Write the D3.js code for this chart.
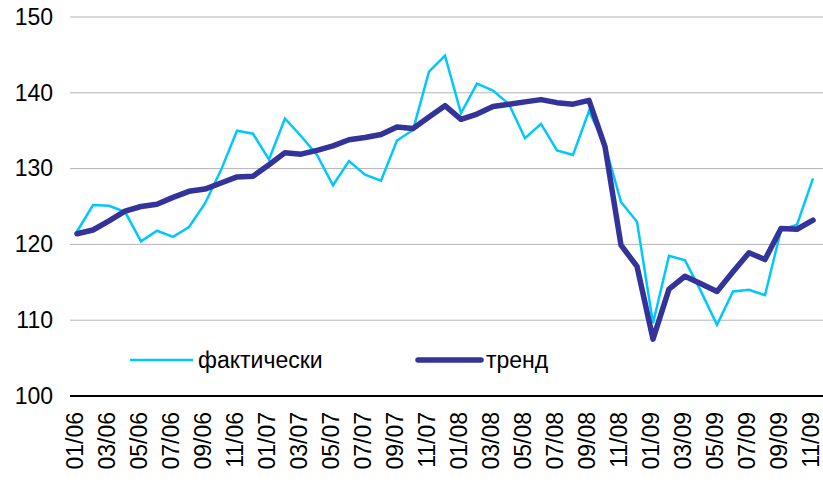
<!DOCTYPE html>
<html>
<head>
<meta charset="utf-8">
<script src="https://cdn.jsdelivr.net/npm/d3@7/dist/d3.min.js"></script>
<style>
  html, body { margin: 0; padding: 0; background: #fff; }
  svg { display: block; font-family: "Liberation Sans", Arial, sans-serif; }
</style>
</head>
<body>
<svg id="chart" width="823" height="480"></svg>
<script>
const months = [
  "01/06","02/06","03/06","04/06","05/06","06/06","07/06","08/06","09/06","10/06","11/06","12/06",
  "01/07","02/07","03/07","04/07","05/07","06/07","07/07","08/07","09/07","10/07","11/07","12/07",
  "01/08","02/08","03/08","04/08","05/08","06/08","07/08","08/08","09/08","10/08","11/08","12/08",
  "01/09","02/09","03/09","04/09","05/09","06/09","07/09","08/09","09/09","10/09","11/09"
];
const actual = [
  121.7,125.2,125.1,124.3,120.4,121.8,121.0,122.3,125.4,129.8,135.0,134.6,
  131.2,136.6,134.3,131.8,127.8,131.0,129.2,128.4,133.7,135.1,142.8,144.9,
  137.3,141.2,140.3,138.5,134.0,135.9,132.4,131.8,137.6,133.1,125.6,123.0,
  109.6,118.5,117.9,113.8,109.4,113.8,114.0,113.3,121.9,122.6,128.7
];
const trend = [
  121.4,121.9,123.1,124.4,125.0,125.3,126.2,127.0,127.3,128.1,128.9,129.0,
  130.5,132.1,131.9,132.4,133.0,133.8,134.1,134.5,135.5,135.3,136.8,138.3,
  136.5,137.2,138.2,138.5,138.8,139.1,138.7,138.5,139.0,132.9,119.9,117.1,
  107.5,114.1,115.8,114.8,113.8,116.4,118.9,118.0,122.1,122.0,123.2
];
const yTicks = [100, 110, 120, 130, 140, 150];
const seriesNames = ["фактически", "тренд"];
const seriesColors = ["#00c8ff", "#333399"];

const svg = d3.select("#chart");
const plotLeft = 70, plotRight = 823, plotTop = 17, plotBottom = 396;

const x = d3.scaleBand().domain(months).range([69, 821]).padding(0);
const xc = d => x(d) + x.bandwidth() / 2;
const y = d3.scaleLinear().domain([100, 150]).range([plotBottom, plotTop]);

// gridlines
svg.append("g").selectAll("line").data(yTicks.filter(t => t > 100)).join("line")
  .attr("x1", plotLeft).attr("x2", plotRight)
  .attr("y1", d => y(d)).attr("y2", d => y(d))
  .attr("stroke", "#b4b4b4").attr("stroke-width", 1);

// y axis labels
const yAxis = d3.axisLeft(y).tickValues(yTicks).tickSize(0).tickPadding(0);
const yg = svg.append("g").attr("transform", "translate(53,0)").call(yAxis);
yg.select(".domain").remove();
yg.selectAll("text").attr("font-size", 23).attr("fill", "#000")
  .attr("font-family", "Liberation Sans, Arial, sans-serif");

// x axis
const xAxis = d3.axisBottom(x).tickValues(months.filter((d, i) => i % 2 === 0)).tickSize(0).tickPadding(0);
const xg = svg.append("g").attr("transform", `translate(0,${plotBottom})`).call(xAxis);
xg.select(".domain").remove();
xg.selectAll("text")
  .attr("font-size", 23).attr("fill", "#000")
  .attr("font-family", "Liberation Sans, Arial, sans-serif")
  .attr("text-anchor", "end")
  .attr("transform", "rotate(-90)")
  .attr("x", -16).attr("y", 0).attr("dy", "0.26em");
svg.append("line").attr("x1", plotLeft).attr("x2", plotRight)
  .attr("y1", plotBottom).attr("y2", plotBottom)
  .attr("stroke", "#000").attr("stroke-width", 2);

// lines
const line = d3.line().x((d, i) => xc(months[i])).y(d => y(d));
svg.append("path").datum(actual).attr("d", line)
  .attr("fill", "none").attr("stroke", seriesColors[0]).attr("stroke-width", 2.5)
  .attr("stroke-linejoin", "miter");
svg.append("path").datum(trend).attr("d", line)
  .attr("fill", "none").attr("stroke", seriesColors[1]).attr("stroke-width", 5.5)
  .attr("stroke-linejoin", "round").attr("stroke-linecap", "round");

// legend
const legendX = [130, 418];
const legendW = [2.5, 5.5];
seriesNames.forEach((name, i) => {
  svg.append("line").attr("x1", legendX[i]).attr("x2", legendX[i] + 63)
    .attr("y1", 360).attr("y2", 360)
    .attr("stroke", seriesColors[i]).attr("stroke-width", legendW[i])
    .attr("stroke-linecap", i === 1 ? "round" : "butt");
  svg.append("text").attr("x", legendX[i] + 68).attr("y", 368)
    .attr("font-size", 23).attr("fill", "#000").text(name);
});
</script>
</body>
</html>
